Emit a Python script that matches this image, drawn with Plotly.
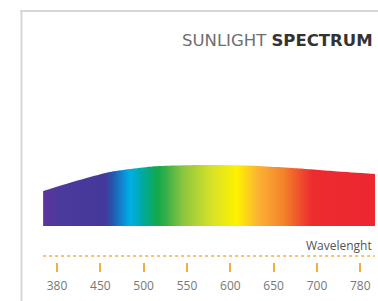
import plotly.graph_objects as go

# ---- data ----
wavelength_labels = ["380", "450", "500", "550", "600", "650", "700", "780"]
tick_positions = [0, 1, 2, 3, 4, 5, 6, 7]

# spectrum envelope (position along the tick scale, relative intensity)
envelope_pos = [-0.32, 0.4, 1.22, 2.2, 3.3, 4.4, 5.6, 6.5, 7.34]
envelope_val = [35, 44.5, 54, 59.5, 61, 60.5, 57.5, 54.5, 52]

# spectrum colours (fraction along the band, colour)
spectrum_stops = [0, 0.051, 0.187, 0.208, 0.238, 0.262, 0.301, 0.346, 0.373,
                  0.422, 0.503, 0.584, 0.645, 0.723, 0.774, 0.81, 1]
spectrum_colors = ["#5e3399", "#4a3a9c", "#43399a", "#2755ad", "#0d87cf", "#00aee6",
                   "#00a99d", "#13a94a", "#3cb049", "#8cc63f", "#d4e029", "#fff200",
                   "#fbb433", "#f4842a", "#ef4e2d", "#ec2c2f", "#ed2630"]

W, H = 378, 301
MB = 39
PH = H - MB

fig = go.Figure()
fig.add_trace(go.Scatter(
    x=envelope_pos, y=envelope_val, mode="lines",
    line=dict(width=0, shape="spline", smoothing=0.6),
    fill="tozeroy",
    fillgradient=dict(type="horizontal",
                      colorscale=[[s, c] for s, c in zip(spectrum_stops, spectrum_colors)]),
    hoverinfo="skip", showlegend=False,
))

px2x = lambda px: (px - 57) / 43.33

fig.update_layout(
    width=W, height=H,
    margin=dict(l=0, r=0, t=0, b=MB),
    paper_bgcolor="white", plot_bgcolor="white",
    xaxis=dict(range=[px2x(0), px2x(W)], tickvals=tick_positions, ticktext=wavelength_labels,
               ticks="outside", ticklen=9, tickwidth=1.5, tickcolor="#efb13c",
               ticklabelstandoff=4,
               showline=False, showgrid=False, zeroline=False, fixedrange=True,
               tickfont=dict(family="Open Sans", size=12, color="#777777")),
    yaxis=dict(range=[-36, 226], visible=False, fixedrange=True),
    shapes=[
        dict(type="line", xref="x", yref="y", x0=-0.32, x1=7.34, y0=-30, y1=-30,
             line=dict(color="#f2b13a", width=1.5, dash="dot")),
        dict(type="line", xref="paper", yref="paper", x0=20 / W, x1=1.0,
             y0=(PH - 11) / PH, y1=(PH - 11) / PH, line=dict(color="#d6d6d6", width=2)),
        dict(type="line", xref="paper", yref="paper", x0=21.5 / W, x1=21.5 / W,
             y0=(PH - 10) / PH, y1=(PH - H) / PH, line=dict(color="#d6d6d6", width=2)),
    ],
    annotations=[
        dict(xref="paper", yref="paper", x=375 / W, y=(PH - 41) / PH,
             xanchor="right", yanchor="middle", showarrow=False,
             text="<span style='color:#6e6e6e'>SUNLIGHT</span> <b><span style='color:#333333'>SPECTRUM</span></b>",
             font=dict(family="DejaVu Sans", size=16.5)),
        dict(xref="x", yref="y", x=px2x(374), y=-19, xanchor="right", yanchor="middle",
             showarrow=False, text="Wavelenght",
             font=dict(family="Open Sans", size=12, color="#555555")),
    ],
)

fig.write_html("out.html", config={"displayModeBar": False},
               post_script="document.body.style.margin='0';document.body.style.overflow='hidden';")
